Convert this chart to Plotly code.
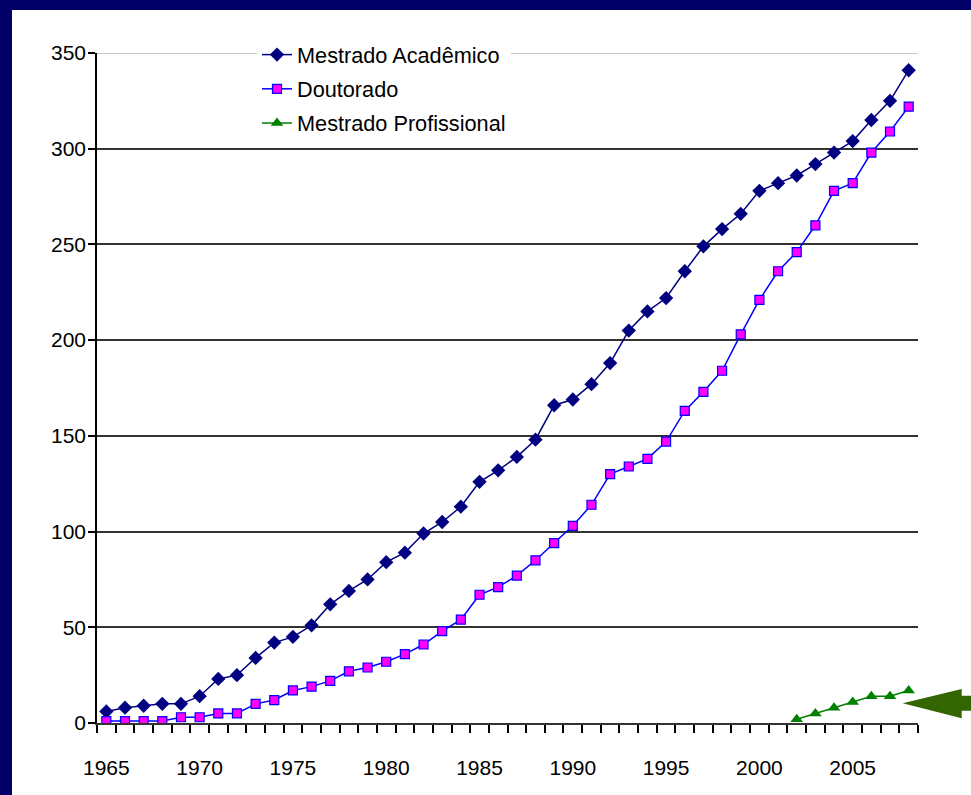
import plotly.graph_objects as go

# Número de programas por ano
anos = list(range(1965, 2009))

mestrado_academico = [6, 8, 9, 10, 10, 14, 23, 25, 34, 42, 45, 51, 62, 69, 75, 84,
                      89, 99, 105, 113, 126, 132, 139, 148, 166, 169, 177, 188, 205, 215,
                      222, 236, 249, 258, 266, 278, 282, 286, 292, 298, 304, 315, 325, 341]

doutorado = [1, 1, 1, 1, 3, 3, 5, 5, 10, 12, 17, 19, 22, 27, 29, 32,
             36, 41, 48, 54, 67, 71, 77, 85, 94, 103, 114, 130, 134, 138,
             147, 163, 173, 184, 203, 221, 236, 246, 260, 278, 282, 298, 309, 322]

anos_profissional = list(range(2002, 2009))
mestrado_profissional = [2, 5, 8, 11, 14, 14, 17]

x_tick_vals = [1965, 1970, 1975, 1980, 1985, 1990, 1995, 2000, 2005]
x_tick_text = ["1965", "1970", "1975", "1980", "1985", "1990", "1995", "2000", "2005"]
y_tick_vals = [0, 50, 100, 150, 200, 250, 300, 350]

# Page geometry (pixels)
W, H = 971, 795
ML, MR, MT, MB = 97, 53, 53, 72
PW, PH = W - ML - MR, H - MT - MB

FONT = "Liberation Sans, Arial, sans-serif"
NAVY = "#000066"


def px_x(px):
    return (px - ML) / PW


def px_y(py):
    return (H - MB - py) / PH


fig = go.Figure()

fig.add_trace(go.Scatter(
    x=anos, y=mestrado_academico, name="Mestrado Acadêmico",
    mode="lines+markers", legendgroup="a",
    line=dict(color="#000080", width=1.5),
    marker=dict(symbol="diamond", size=11, color="#000080"),
))
fig.add_trace(go.Scatter(
    x=anos, y=doutorado, name="Doutorado",
    mode="lines+markers", legendgroup="b",
    line=dict(color="#0000FF", width=1.5),
    marker=dict(symbol="square", size=9, color="#FF00FF",
                line=dict(color="#0000FF", width=1.2)),
))
fig.add_trace(go.Scatter(
    x=anos_profissional, y=mestrado_profissional, name="Mestrado Profissional",
    mode="lines+markers", legendgroup="c",
    line=dict(color="#008000", width=1.5),
    marker=dict(symbol="triangle-up", size=11, color="#008000"),
))

shapes = []
# light top border line at the 350 level
shapes.append(dict(type="line", xref="paper", yref="y", x0=0, x1=1, y0=350, y1=350,
                   line=dict(color="#c8c8c8", width=2), layer="below"))
# navy frame on the top and left edges
shapes.append(dict(type="rect", xref="paper", yref="paper",
                   x0=px_x(0), x1=px_x(W), y0=px_y(10), y1=px_y(0),
                   fillcolor=NAVY, line=dict(width=0), layer="above"))
shapes.append(dict(type="rect", xref="paper", yref="paper",
                   x0=px_x(0), x1=px_x(12), y0=px_y(H), y1=px_y(0),
                   fillcolor=NAVY, line=dict(width=0), layer="above"))

# green arrow pointing at the Mestrado Profissional series
arrow_pts = [(902.7, 703.3), (961.7, 689.0), (961.7, 695.7), (975, 695.7),
             (975, 710.7), (961.7, 710.7), (961.7, 718.3)]
path = "M " + " L ".join(f"{px_x(a):.5f},{px_y(b):.5f}" for a, b in arrow_pts) + " Z"
shapes.append(dict(type="path", xref="paper", yref="paper", path=path,
                   fillcolor="#336600", line=dict(width=0), layer="above"))

fig.update_layout(
    width=W, height=H,
    margin=dict(l=ML, r=MR, t=MT, b=MB, pad=0),
    paper_bgcolor="white", plot_bgcolor="white",
    font=dict(family=FONT, size=21, color="black"),
    showlegend=True,
    legend=dict(
        x=px_x(257), y=px_y(34), xanchor="left", yanchor="top",
        bgcolor="white", borderwidth=0,
        font=dict(family=FONT, size=21.7, color="black"),
        traceorder="grouped", tracegroupgap=3,
        itemwidth=30,
    ),
    shapes=shapes,
    xaxis=dict(
        range=[1964.5, 2008.5],
        tickmode="array", tickvals=x_tick_vals, ticktext=x_tick_text,
        ticks="", showgrid=False, zeroline=False,
        showline=True, linecolor="#333333", linewidth=2,
        tickfont=dict(family=FONT, size=21, color="black"),
        ticklabelstandoff=25,
        minor=dict(tickvals=[a - 0.5 for a in anos] + [2008.5], ticks="outside",
                   ticklen=8, tickwidth=1.5, tickcolor="black", showgrid=False),
    ),
    yaxis=dict(
        range=[0, 350],
        tickmode="array", tickvals=y_tick_vals,
        ticks="outside", ticklen=7, tickwidth=1.5, tickcolor="black",
        showgrid=True, gridcolor="#333333", gridwidth=2,
        zeroline=False, showline=True, linecolor="black", linewidth=1.5,
        tickfont=dict(family=FONT, size=21, color="black"),
        ticklabelstandoff=-2,
    ),
)

fig.write_html("out.html")
